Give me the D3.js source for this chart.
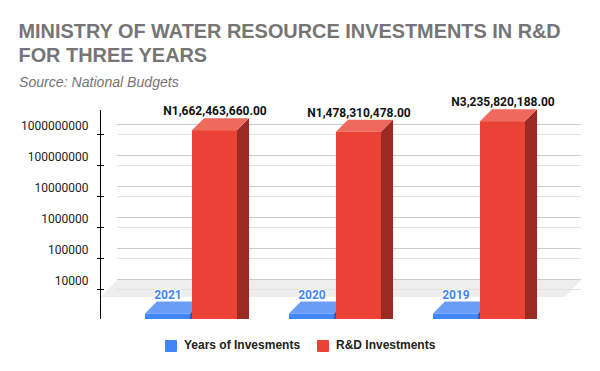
<!DOCTYPE html>
<html>
<head>
<meta charset="utf-8">
<script src="https://cdn.jsdelivr.net/npm/d3@7"></script>
<style>
html, body { margin: 0; padding: 0; background: #fff; }
text { font-family: Roboto, sans-serif; }
.title { font-family: "Liberation Sans", Arial, sans-serif; font-weight: 700; font-size: 19.9px; fill: #757575; }
.source { font-family: "Liberation Sans", Arial, sans-serif; font-style: italic; font-size: 14.1px; fill: #757575; }
.legend text { font-family: "Liberation Sans", Arial, sans-serif; font-weight: 700; font-size: 12px; fill: #222; }
</style>
</head>
<body>
<svg id="chart" width="600" height="371"></svg>
<script>
var titleLines = ["MINISTRY OF WATER RESOURCE INVESTMENTS IN R&D", "FOR THREE YEARS"];
var sourceText = "Source: National Budgets";
var years = ["2021", "2020", "2019"];
var seriesNames = ["Years of Invesments", "R&D Investments"];
var yearValues = [2021, 2020, 2019];
var rdValues = [1662463660, 1478310478, 3235820188];
var tickValues = [10000, 100000, 1000000, 10000000, 100000000, 1000000000];
var seriesColors = ["#4285f4", "#ea4335"];
var sideColors = ["#2f5daa", "#982b22"];
var topColors = ["#6a9df6", "#ef695d"];

var svg = d3.select("#chart");

// depth of the fake 3d box
var depthX = 12, depthY = 12;
var floorDepthX = 16;

// y is the front plane of the bars, the axis sits 3px above it
var y = d3.scaleLog().domain([10000, 1000000000]).range([292, 137]);
var baseY = 319;
var axisShift = -3;

var x = d3.scaleBand().domain(years).range([119, 551]).paddingInner(52 / 144).paddingOuter(26 / 144);
var x1 = d3.scaleBand().domain(seriesNames).range([0, x.bandwidth()]).paddingInner(2 / 47);

// title
svg.selectAll(".title").data(titleLines).enter().append("text")
    .attr("class", "title")
    .attr("x", 18.5)
    .attr("y", function(d, i) { return 37.5 + i * 24.5; })
    .text(function(d) { return d; });

svg.append("text").attr("class", "source").attr("x", 19).attr("y", 87).text(sourceText);

// grid, back wall and front plane
var grid = svg.append("g");
grid.selectAll(".back").data(tickValues).enter().append("line")
    .attr("x1", 117).attr("x2", 581)
    .attr("y1", function(d) { return Math.round(y(d) + axisShift - depthY + 3) - 0.5; })
    .attr("y2", function(d) { return Math.round(y(d) + axisShift - depthY + 3) - 0.5; })
    .attr("stroke", "#ccc");

// floor
var floorTop = y(10000) + axisShift - depthY + 3;
grid.append("path")
    .attr("d", d3.line()([[117, floorTop], [581, floorTop], [581 - floorDepthX, floorTop + 17], [117 - floorDepthX, floorTop + 17]]) + "Z")
    .attr("fill", "#eee");
grid.append("line")
    .attr("x1", 117).attr("x2", 581)
    .attr("y1", Math.round(floorTop) - 0.5).attr("y2", Math.round(floorTop) - 0.5)
    .attr("stroke", "#ccc");

grid.selectAll(".front").data(tickValues).enter().append("line")
    .attr("x1", 117).attr("x2", 581)
    .attr("y1", function(d) { return Math.round(y(d) + axisShift) + 0.5; })
    .attr("y2", function(d) { return Math.round(y(d) + axisShift) + 0.5; })
    .attr("stroke", "#e3e3e3");

// axis
var axis = svg.append("g")
    .attr("transform", "translate(100.5," + axisShift + ")")
    .call(d3.axisLeft(y).tickValues(tickValues).tickFormat(function(d) { return String(d); }).tickSize(0));
axis.select(".domain").remove();
axis.selectAll(".tick line").attr("x1", -3.5).attr("x2", 3.5).attr("stroke", "#000");
axis.selectAll(".tick text")
    .attr("x", -12).attr("dy", "-0.34em")
    .attr("font-size", 12).attr("font-family", "'Liberation Sans', Arial, sans-serif").attr("fill", "#222");
svg.append("line").attr("x1", 100.5).attr("x2", 100.5).attr("y1", 110).attr("y2", baseY).attr("stroke", "#000");

// one 3d box per bar
function drawBox(g, bx, by, w, i) {
    g.append("path")
        .attr("d", d3.line()([[bx + w, by], [bx + w + depthX, by - depthY], [bx + w + depthX, baseY], [bx + w, baseY]]) + "Z")
        .attr("fill", sideColors[i]);
    g.append("path")
        .attr("d", d3.line()([[bx, by], [bx + depthX, by - depthY], [bx + w + depthX, by - depthY], [bx + w, by]]) + "Z")
        .attr("fill", topColors[i]);
    g.append("rect")
        .attr("x", bx).attr("y", by).attr("width", w).attr("height", baseY - by)
        .attr("fill", seriesColors[i]);
}

function haloText(g, tx, ty, str, color) {
    g.append("text").attr("x", tx).attr("y", ty).attr("text-anchor", "middle")
        .attr("font-size", 12).attr("font-weight", 700)
        .attr("fill", color).attr("stroke", "#fff").attr("stroke-width", 2.5)
        .attr("stroke-linejoin", "round").attr("paint-order", "stroke")
        .text(str);
}

var money = d3.format(",.2f");
years.forEach(function(year, j) {
    var g = svg.append("g");
    var x0 = x(year);
    var w = x1.bandwidth();
    drawBox(g, x0 + x1(seriesNames[0]), y(yearValues[j]), w, 0);
    haloText(g, x0 + x1(seriesNames[0]) + w / 2 + 0.5, y(yearValues[j]) - 15, year, seriesColors[0]);
    drawBox(g, x0 + x1(seriesNames[1]), y(rdValues[j]), w, 1);
    haloText(g, x0 + x1(seriesNames[1]) + w / 2 + 0.5, y(rdValues[j]) - 15, "N" + money(rdValues[j]), "#111");
});

// legend
var legendX = [165, 317];
var legend = svg.append("g").attr("class", "legend");
seriesNames.forEach(function(name, i) {
    legend.append("rect").attr("x", legendX[i]).attr("y", 340).attr("width", 12).attr("height", 12).attr("rx", 1).attr("fill", seriesColors[i]);
    legend.append("text").attr("x", legendX[i] + 19).attr("y", 349).text(name);
});
</script>
</body>
</html>
